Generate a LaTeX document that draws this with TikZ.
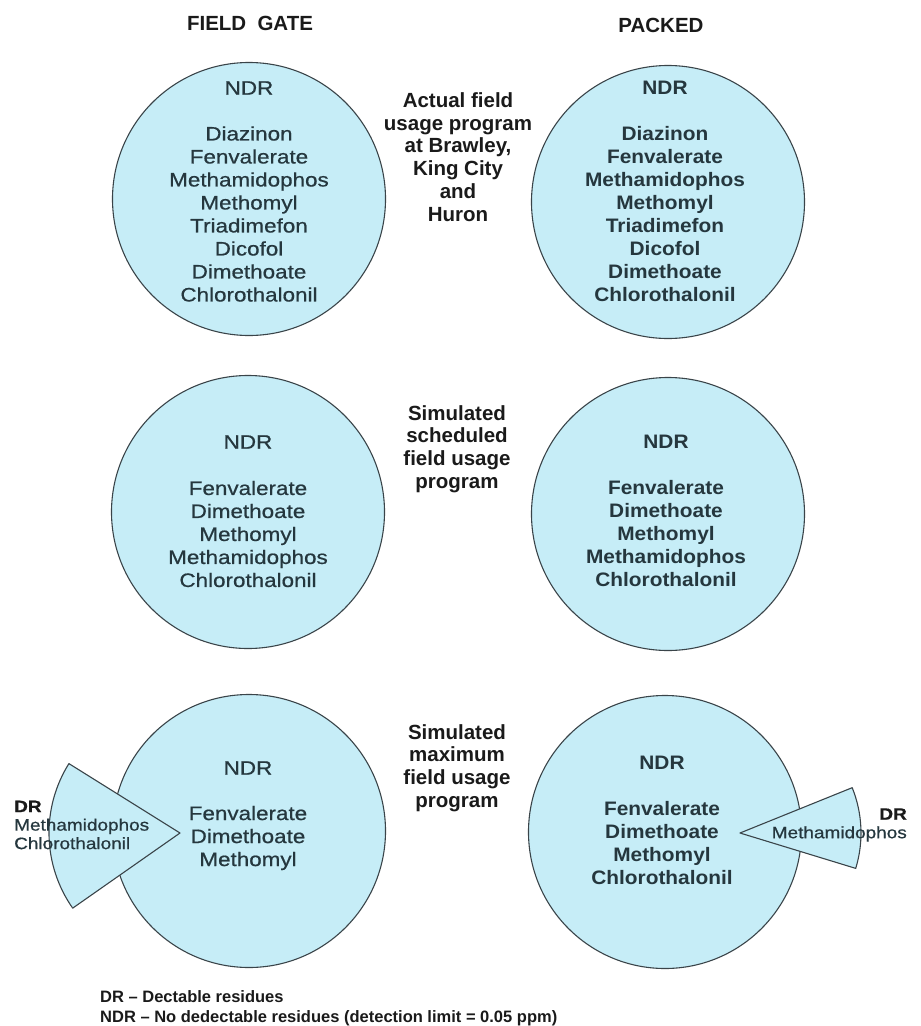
\documentclass[tikz,border=0pt]{standalone}
\usepackage{fontspec}
\setmainfont{Liberation Sans}
\newfontfamily\circfont[FakeStretch=1.15,FakeBold=0.7]{Liberation Sans}
\newfontfamily\circfontb[FakeStretch=1.07]{Liberation Sans}
\definecolor{discfill}{HTML}{C6EDF7}
\definecolor{ink}{HTML}{25373E}
\definecolor{rim}{HTML}{3A4449}
\definecolor{blk}{HTML}{1A1A1A}
\tikzset{
  disc/.style={circle, draw=rim, line width=1.1pt, fill=discfill, minimum size=273pt, inner sep=0pt},
  reglist/.style={font=\circfont\fontsize{19.5}{23}\selectfont, text=ink, align=center, inner sep=0pt},
  boldlist/.style={font=\circfontb\bfseries\fontsize{19.5}{23}\selectfont, text=ink, align=center, inner sep=0pt},
  proglabel/.style={font=\bfseries\fontsize{20.5}{22.7}\selectfont, text=blk, align=center, inner sep=0pt},
  head/.style={font=\bfseries\fontsize{20.5}{24}\selectfont, text=blk, inner sep=0pt},
  wedge/.style={draw=rim, line width=1.1pt, fill=discfill, line join=round},
  smallreg/.style={font=\circfont\fontsize{16.5}{18.5}\selectfont, text=ink, inner sep=0pt},
  legend/.style={font=\bfseries\fontsize{16.5}{20}\selectfont, text=blk, align=left, inner sep=0pt}
}
\begin{document}
\begin{tikzpicture}[x=1pt,y=-1pt]
\useasboundingbox (0,0) rectangle (921,1026);

% headers
\node[head] (hfg) at (250,23) {FIELD\hspace{0.55em}GATE};
\node[head] (hpk) at (661,25) {PACKED};

% row 1
\node[disc] (c1l) at (249,199) {};
\node[disc] (c1r) at (668,202) {};
\node[reglist] (n1l) at (249,88) {NDR};
\node[reglist] (l1l) at (249,214) {Diazinon\\Fenvalerate\\Methamidophos\\Methomyl\\Triadimefon\\Dicofol\\Dimethoate\\Chlorothalonil};
\node[boldlist] (n1r) at (665,88) {NDR};
\node[boldlist] (l1r) at (665,214) {Diazinon\\Fenvalerate\\Methamidophos\\Methomyl\\Triadimefon\\Dicofol\\Dimethoate\\Chlorothalonil};
\node[proglabel] (p1) at (458,157) {Actual field\\usage program\\at Brawley,\\King City\\and\\Huron};

% row 2
\node[disc] (c2l) at (248,512) {};
\node[disc] (c2r) at (668,514) {};
\node[reglist] (n2l) at (248,442) {NDR};
\node[reglist] (l2l) at (248,534) {Fenvalerate\\Dimethoate\\Methomyl\\Methamidophos\\Chlorothalonil};
\node[boldlist] (n2r) at (666,442) {NDR};
\node[boldlist] (l2r) at (666,534) {Fenvalerate\\Dimethoate\\Methomyl\\Methamidophos\\Chlorothalonil};
\node[proglabel] (p2) at (457,449) {Simulated\\scheduled\\field usage\\program};

% row 3
\node[disc] (c3l) at (249,831) {};
\node[disc] (c3r) at (665,832) {};
\draw[wedge] (180,833) -- ++(145:131) arc[start angle=145, end angle=212, radius=131] -- cycle;
\draw[wedge] (740,833) -- ++(-22:121) arc[start angle=-22, end angle=17, radius=121] -- cycle;
\node[reglist] (n3l) at (248,768) {NDR};
\node[reglist] (l3l) at (248,838) {Fenvalerate\\Dimethoate\\Methomyl};
\node[boldlist] (n3r) at (662,763) {NDR};
\node[boldlist] (l3r) at (662,843) {Fenvalerate\\Dimethoate\\Methomyl\\Chlorothalonil};
\node[proglabel] (p3) at (457,768) {Simulated\\maximum\\field usage\\program};

% wedge labels
\node[smallreg, align=left, anchor=west] (dl) at (14,825) {\textcolor{blk}{\bfseries DR}\\Methamidophos\\Chlorothalonil};
\node[smallreg, align=right, anchor=east] (dr) at (907,825) {\textcolor{blk}{\bfseries DR}\\Methamidophos};

% legend
\node[legend, anchor=west] (leg) at (100,1008) {DR -- Dectable residues\\NDR -- No dedectable residues (detection limit = 0.05 ppm)};
\end{tikzpicture}
\end{document}
